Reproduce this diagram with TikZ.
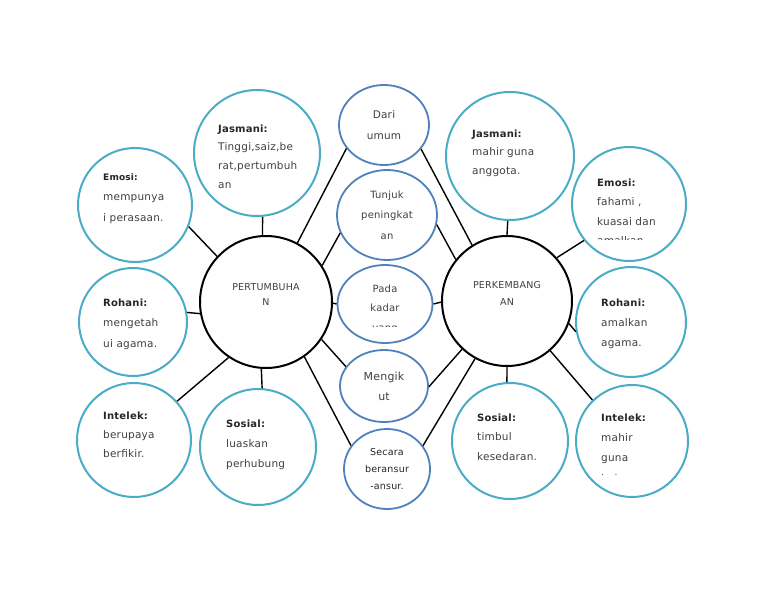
\documentclass[tikz,border=0pt]{standalone}
\usepackage{fontspec}
\setmainfont{DejaVu Sans}[LetterSpace=2]
\usepackage{tikz}
\usetikzlibrary{shapes.geometric}

\definecolor{aqua}{HTML}{4BACC6}
\definecolor{steel}{HTML}{4F81BD}
\definecolor{ink}{HTML}{404040}
\definecolor{headink}{HTML}{262626}
% bold heading inside a bubble
\newcommand{\hd}[2][10]{{\fontsize{#1}{12}\selectfont\bfseries\color{headink}#2}}

\begin{document}
\begin{tikzpicture}[x=1pt, y=-1pt,
    ring/.style={circle, draw=aqua, line width=2pt, inner sep=0pt, minimum size=#1},
    bubble/.style={ellipse, draw=steel, line width=1.8pt, inner sep=0pt, align=center, text=ink},
    hub/.style={circle, draw=black, line width=2pt, inner sep=0pt, minimum size=#1},
    link/.style={line width=1.4pt},
    body/.style={anchor=north west, inner sep=0pt, align=left, text=ink, font=\fontsize{10.5}{#1}\selectfont},
    hubtext/.style={inner sep=0pt, align=center, text=ink, font=\fontsize{9.5}{#1}\selectfont}]
    \fill[white] (0,0) rectangle (768,594);
    \useasboundingbox (0,0) rectangle (768,594);

    % two hubs
    \node[hub=132pt] (pert) at (266,302) {};
    \node[hub=130pt] (perk) at (507,301) {};
    \node[hubtext=15] (pert-txt) at (266,295) {PERTUMBUHA\\N};
    \node[hubtext=17] (perk-txt) at (507,293) {PERKEMBANG\\AN};

    % middle column
    \node[bubble, minimum width=90pt, minimum height=80pt, font=\fontsize{10.5}{21}\selectfont] (dari) at (384,125) {Dari\\umum};
    \node[bubble, minimum width=100pt, minimum height=90pt, font=\fontsize{10}{20.5}\selectfont] (tunjuk) at (387,215) {Tunjuk\\peningkat\\an};
    \node[bubble, minimum width=95pt, minimum height=78pt] (pada) at (385,304) {};
    \begin{scope}
        \clip (335,262) rectangle (435,326.5);
        \node[anchor=north, inner sep=0pt, align=center, text=ink, font=\fontsize{10}{19.5}\selectfont] (pada-txt) at (385,284.5) {Pada\\kadar\\yang};
    \end{scope}
    \node[bubble, minimum width=88pt, minimum height=72pt, font=\fontsize{11}{20}\selectfont] (ikut) at (384,386) {Mengik\\ut};
    \node[bubble, minimum width=86pt, minimum height=80pt, text=headink, font=\fontsize{9.5}{17}\selectfont] (secara) at (387,469) {Secara\\beransur\\-ansur.};

    % left rings
    \node[ring=114pt] (emoL) at (135,205) {};
    \node[ring=126pt] (jasL) at (257,153) {};
    \node[ring=108pt] (rohL) at (133,322) {};
    \node[ring=114pt] (intL) at (134,440) {};
    \node[ring=116pt] (sosL) at (258,447) {};
    \node[body=20.5] (emoL-txt) at (103,173) {\hd[9]{Emosi:}\\mempunya\\i perasaan.};
    \node[body=18.7] (jasL-txt) at (218,124.5) {\hd{Jasmani:}\\Tinggi,saiz,be\\rat,pertumbuh\\an};
    \node[body=20.5] (rohL-txt) at (103,298.5) {\hd{Rohani:}\\mengetah\\ui agama.};
    \node[body=19] (intL-txt) at (103,411.5) {\hd{Intelek:}\\berupaya\\berfikir.};
    \node[body=20] (sosL-txt) at (226,419.5) {\hd{Sosial:}\\luaskan\\perhubung};

    % right rings
    \node[ring=128pt] (jasR) at (510,156) {};
    \node[ring=114pt] (emoR) at (629,204) {};
    \node[ring=110pt] (rohR) at (631,322) {};
    \node[ring=112pt] (intR) at (632,441) {};
    \node[ring=116pt] (sosR) at (510,441) {};
    \node[body=18.5] (jasR-txt) at (472,129.5) {\hd{Jasmani:}\\mahir guna\\anggota.};
    \begin{scope}
        \clip (570,150) rectangle (690,239);
        \node[body=19.5] (emoR-txt) at (597,178.5) {\hd{Emosi:}\\fahami ,\\kuasai dan\\amalkan};
    \end{scope}
    \node[body=20] (rohR-txt) at (601,298.5) {\hd{Rohani:}\\amalkan\\agama.};
    \node[body=19.5] (sosR-txt) at (477,413.5) {\hd{Sosial:}\\timbul\\kesedaran.};
    \begin{scope}
        \clip (575,390) rectangle (690,474);
        \node[body=20.3] (intR-txt) at (601,413.5) {\hd{Intelek:}\\mahir\\guna\\bahasa};
    \end{scope}

    % connectors, left hub
    \draw[link] (pert.137) -- (emoL.-22);
    \draw[link] (pert.93.5) -- (jasL.-85.5);
    \draw[link] (pert.190) -- (rohL.10);
    \draw[link] (pert.236) -- (intL.42);
    \draw[link] (pert.266) -- (sosL.86);
    \draw[link] (pert.62) -- (dari.212);
    \draw[link] (pert.33) -- (tunjuk.201);
    \draw[link] (pert.-1) -- (pada.180);
    \draw[link] (pert.-34) -- (ikut.153);
    \draw[link] (pert.-55) -- (secara.147);

    % connectors, right hub
    \draw[link] (perk.122) -- (dari.-33);
    \draw[link] (perk.141) -- (tunjuk.-11);
    \draw[link] (perk.181.5) -- (pada.0);
    \draw[link] (perk.227) -- (ikut.-1);
    \draw[link] (perk.241.5) -- (secara.33);
    \draw[link] (perk.90) -- (jasR.-92.5);
    \draw[link] (perk.41) -- (emoR.219);
    \draw[link] (perk.-20) -- (rohR.190);
    \draw[link] (perk.-49) -- (intR.134);
    \draw[link] (perk.270) -- (sosR.93);
\end{tikzpicture}
\end{document}
